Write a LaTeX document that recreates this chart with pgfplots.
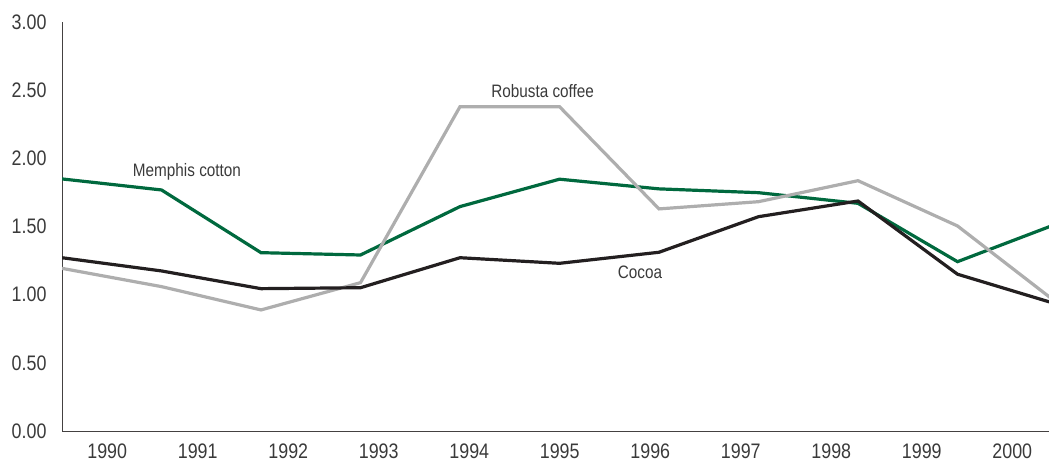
\documentclass[border=0pt]{standalone}
\usepackage{pgfplots}
\pgfplotsset{compat=1.18}
\usepackage{fontspec}
\setmainfont{Liberation Sans}[FakeStretch=0.85]
\definecolor{cgreen}{HTML}{00693E}
\definecolor{cgray}{HTML}{AEAEAE}
\definecolor{cblack}{HTML}{231F20}
\definecolor{ctext}{HTML}{3A3A3A}
\begin{document}
\begin{tikzpicture}
\useasboundingbox (-62bp,-30bp) rectangle (987bp,431bp);
\begin{axis}[
  at={(0,0)}, anchor=south west,
  scale only axis,
  width=987bp, height=409bp,
  xmin=0, xmax=9.9196,
  ymin=0, ymax=3,
  axis x line=bottom, axis y line=left,
  axis line style={-, line width=1bp, color=cblack!85},
  xtick={0.4548,1.3643,2.2739,3.1834,4.0930,5.0025,5.9121,6.8216,7.7312,8.6407,9.5503},
  xticklabels={1990,1991,1992,1993,1994,1995,1996,1997,1998,1999,2000},
  ytick={0,0.5,1,1.5,2,2.5,3},
  major tick length=0,
  tick style={draw=none},
  /pgf/number format/assume math mode=true,
  yticklabel={\pgfmathprintnumber[fixed,fixed zerofill,precision=2]{\tick}},
  ticklabel style={font=\fontsize{21bp}{25bp}\selectfont, text=ctext},
  yticklabel style={xshift=-12bp},
  xticklabel style={inner sep=0pt, yshift=-12.5bp},
  clip=true,
]
\addplot[cgreen, line width=3.2bp] coordinates {
(0,1.849) (1,1.768) (2,1.308) (3,1.291) (4,1.646) (5,1.847) (6,1.776) (7,1.748) (8,1.670) (9,1.242) (10,1.52)};
\addplot[cgray, line width=3.2bp] coordinates {
(0,1.193) (1,1.059) (2,0.888) (3,1.088) (4,2.379) (5,2.379) (6,1.629) (7,1.682) (8,1.836) (9,1.504) (10,0.94)};
\addplot[cblack, line width=3.2bp] coordinates {
(0,1.271) (1,1.174) (2,1.044) (3,1.051) (4,1.271) (5,1.230) (6,1.311) (7,1.572) (8,1.687) (9,1.150) (10,0.93)};
\node[font=\fontsize{18bp}{21bp}\selectfont, text=ctext] at (axis cs:1.256,1.90) {Memphis cotton};
\node[font=\fontsize{18bp}{21bp}\selectfont, text=ctext] at (axis cs:4.831,2.496) {Robusta coffee};
\node[font=\fontsize{18bp}{21bp}\selectfont, text=ctext] at (axis cs:5.809,1.161) {Cocoa};
\end{axis}
\end{tikzpicture}
\end{document}
